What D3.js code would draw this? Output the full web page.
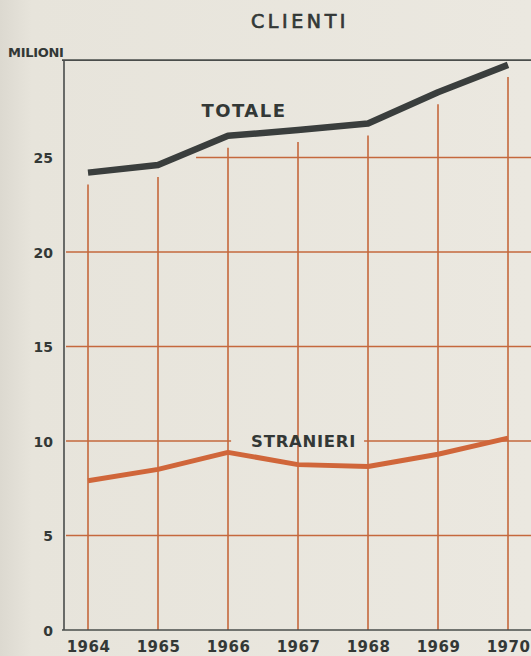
<!DOCTYPE html>
<html>
<head>
<meta charset="utf-8">
<script src="https://cdn.jsdelivr.net/npm/d3@7"></script>
<style>
  html, body { margin: 0; padding: 0; background: #e9e6dd; }
  svg { display: block; }
  text { font-family: "DejaVu Sans", sans-serif; fill: #333836; }
</style>
</head>
<body>
<svg></svg>
<script>
'use strict';

// data (milioni di clienti)
var years = [1964, 1965, 1966, 1967, 1968, 1969, 1970];
var totale = [24.2, 24.6, 26.15, 26.45, 26.8, 28.45, 29.9];
var stranieri = [7.9, 8.5, 9.4, 8.75, 8.65, 9.3, 10.15];
var yTicks = [0, 5, 10, 15, 20, 25];
var gridValues = [5, 10, 15, 20, 25];

var SVG_SIZE = { width: 531, height: 656 };
var INK = '#3a3e3d';
var ORANGE = '#c5683d';

var svg = d3.select('svg')
    .attr('width', SVG_SIZE.width).attr('height', SVG_SIZE.height);

// scales
var xScale = d3.scaleLinear().domain([1964, 1970]).range([88, 508]);
var yScale = d3.scaleLinear().domain([0, 30]).range([630, 63]);
var frameLeft = 64;
var frameRight = SVG_SIZE.width;
var frameTop = yScale(30.15);

// paper: slightly darker on the left edge
var defs = svg.append('defs');
var grad = defs.append('linearGradient').attr('id', 'paper')
    .attr('x1', 0).attr('x2', 1).attr('y1', 0).attr('y2', 0);
grad.append('stop').attr('offset', 0).attr('stop-color', '#dcd9d0');
grad.append('stop').attr('offset', 0.06).attr('stop-color', '#e7e4db');
grad.append('stop').attr('offset', 1).attr('stop-color', '#ebe8e0');
svg.append('rect').attr('width', SVG_SIZE.width).attr('height', SVG_SIZE.height)
    .attr('fill', 'url(#paper)');

// title (normal weight, thickened a bit with a stroke)
svg.append('text')
    .attr('x', 300).attr('y', 28)
    .attr('text-anchor', 'middle')
    .attr('font-size', 19).attr('letter-spacing', 3.6)
    .attr('stroke', '#333836').attr('stroke-width', 0.7)
    .text('CLIENTI');

svg.append('text')
    .attr('x', 8).attr('y', 57)
    .attr('font-size', 13).attr('font-weight', 'bold').attr('letter-spacing', -0.3)
    .text('MILIONI');

var plot = svg.append('g');

// series labels (drawn first so the 10 line can leave a gap around STRANIERI)
var labels = svg.append('g');
labels.append('text')
    .attr('x', xScale(1965.62)).attr('y', yScale(26.3) - 16)
    .attr('font-size', 18).attr('font-weight', 'bold').attr('letter-spacing', 1.5)
    .text('TOTALE');
var strLabel = labels.append('text')
    .attr('x', xScale(1966.33)).attr('y', yScale(10) + 6)
    .attr('font-size', 16.5).attr('font-weight', 'bold').attr('letter-spacing', 0.7)
    .text('STRANIERI');
var strBox = strLabel.node().getBBox();

// horizontal grid
gridValues.forEach(function (v) {
    var segs = [[frameLeft + 2, frameRight]];
    if (v === 25) {
        // starts a little after the point where TOTALE crosses 25
        var i = d3.bisectLeft(totale, 25);
        var t = (25 - totale[i - 1]) / (totale[i] - totale[i - 1]);
        var xCross = xScale(years[i - 1] + t);
        segs = [[xCross + 20, frameRight]];
    }
    if (v === 10) {
        segs = [[frameLeft + 2, strBox.x - 20], [strBox.x + strBox.width + 8, frameRight]];
    }
    segs.forEach(function (s) {
        plot.append('line')
            .attr('x1', s[0]).attr('x2', s[1])
            .attr('y1', yScale(v)).attr('y2', yScale(v))
            .attr('stroke', ORANGE).attr('stroke-width', 1.6);
    });
});

// vertical grid: from just under TOTALE down to zero
plot.selectAll('line.vgrid')
    .data(years)
    .enter().append('line')
    .attr('class', 'vgrid')
    .attr('x1', function (d) { return xScale(d) })
    .attr('x2', function (d) { return xScale(d) })
    .attr('y1', function (d, i) { return yScale(totale[i]) + 12 })
    .attr('y2', yScale(0))
    .attr('stroke', ORANGE).attr('stroke-width', 1.6);

// frame
svg.append('path')
    .attr('d', 'M' + frameRight + ',' + frameTop + 'H' + (frameLeft - 2) +
        'M' + frameLeft + ',' + frameTop + 'V' + yScale(0) +
        'M' + (frameLeft - 2) + ',' + yScale(0) + 'H' + frameRight)
    .attr('fill', 'none').attr('stroke', '#4a4d4b').attr('stroke-width', 1.6);

// lines
var line = d3.line()
    .x(function (d) { return xScale(d[0]) })
    .y(function (d) { return yScale(d[1]) });

svg.append('path')
    .datum(d3.zip(years, totale))
    .attr('d', line)
    .attr('fill', 'none').attr('stroke', INK).attr('stroke-width', 6.5)
    .attr('stroke-linejoin', 'round');

svg.append('path')
    .datum(d3.zip(years, stranieri))
    .attr('d', line)
    .attr('fill', 'none').attr('stroke', '#d0663a').attr('stroke-width', 5)
    .attr('stroke-linejoin', 'round');

// axes
var yAxis = d3.axisLeft(yScale).tickValues(yTicks).tickSize(0).tickPadding(11);
var gy = svg.append('g')
    .attr('transform', 'translate(' + frameLeft + ',0)')
    .call(yAxis);
gy.select('.domain').remove();
gy.selectAll('text')
    .attr('font-size', 14).attr('font-weight', 'bold')
    .attr('font-family', '"DejaVu Sans", sans-serif')
    .attr('fill', '#333836')
    .attr('dy', '0.36em');

var xAxis = d3.axisBottom(xScale).tickValues(years).tickFormat(d3.format('d')).tickSize(0).tickPadding(11);
var gx = svg.append('g')
    .attr('transform', 'translate(0,' + yScale(0) + ')')
    .call(xAxis);
gx.select('.domain').remove();
gx.selectAll('text')
    .attr('font-size', 15).attr('font-weight', 'bold')
    .attr('font-family', '"DejaVu Sans", sans-serif')
    .attr('fill', '#333836')
    .attr('letter-spacing', 0.5);
</script>
</body>
</html>
